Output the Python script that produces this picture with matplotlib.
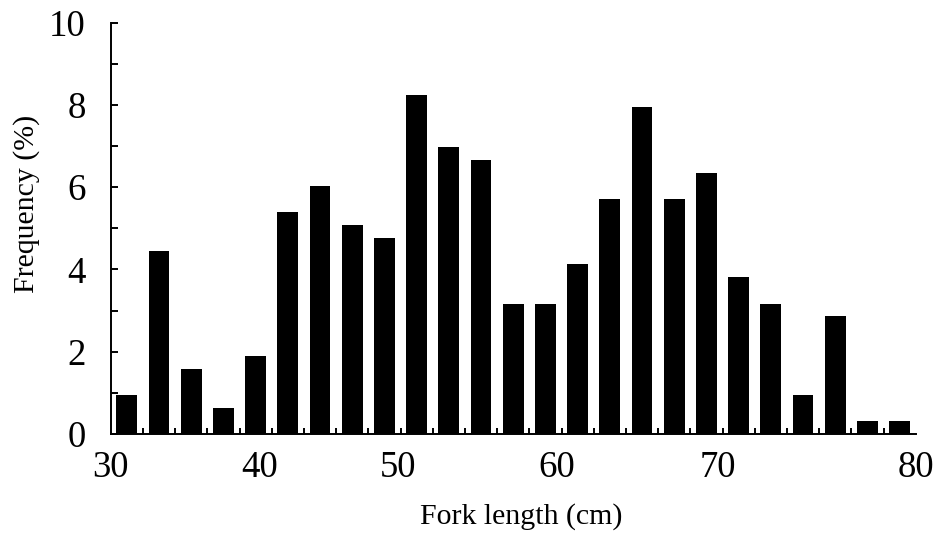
import matplotlib.pyplot as plt
import numpy as np

# fork length classes (2 cm), bar centres
lengths = np.arange(31, 80, 2)
freq = [0.95, 4.44, 1.59, 0.63, 1.90, 5.40, 6.03, 5.08, 4.76, 8.25,
        6.98, 6.67, 3.17, 3.17, 4.13, 5.71, 7.94, 5.71, 6.35, 3.81,
        3.17, 0.95, 2.86, 0.32, 0.32]

xlabels = ["30", "40", "50", "60", "70", "80"]
# labels sit a bit off the true positions in the original figure
xlabel_pos = [30, 39.25, 47.85, 57.7, 67.7, 80]
ytick_vals = [0, 2, 4, 6, 8, 10]

plt.rcParams["font.family"] = ["Liberation Serif", "DejaVu Serif"]

fig = plt.figure(figsize=(9.39, 5.36), dpi=100)
ax = fig.add_axes([0.1179, 0.1903, 0.8573, 0.7673])

ax.bar(lengths, freq, width=1.3, color="black", edgecolor="none")

ax.set_xlim(30, 80)
ax.set_ylim(0, 10)

for s in ["top", "right"]:
    ax.spines[s].set_visible(False)
for s in ["left", "bottom"]:
    ax.spines[s].set_linewidth(1.4)

ax.set_xticks(xlabel_pos)
ax.set_xticklabels(xlabels)
ax.set_xticks(np.arange(30, 81, 2), minor=True)
ax.tick_params(axis="x", which="major", length=0, pad=12, labelsize=26.5)
ax.tick_params(axis="x", which="minor", direction="in", length=4, width=1.4)

ax.set_yticks(ytick_vals)
ax.set_yticks(np.arange(1, 10, 2), minor=True)
ax.tick_params(axis="y", which="both", direction="in", length=5, width=1.4)
ax.tick_params(axis="y", which="major", pad=18, labelsize=26.5)

ax.set_xlabel("Fork length (cm)", fontsize=21.5, va="center")
ax.xaxis.set_label_coords(0.51, -0.2)
ax.set_ylabel("Frequency (%)", fontsize=21.5, va="center")
ax.yaxis.set_label_coords(-0.104, 0.56)

fig.savefig("out.png", dpi=100)
